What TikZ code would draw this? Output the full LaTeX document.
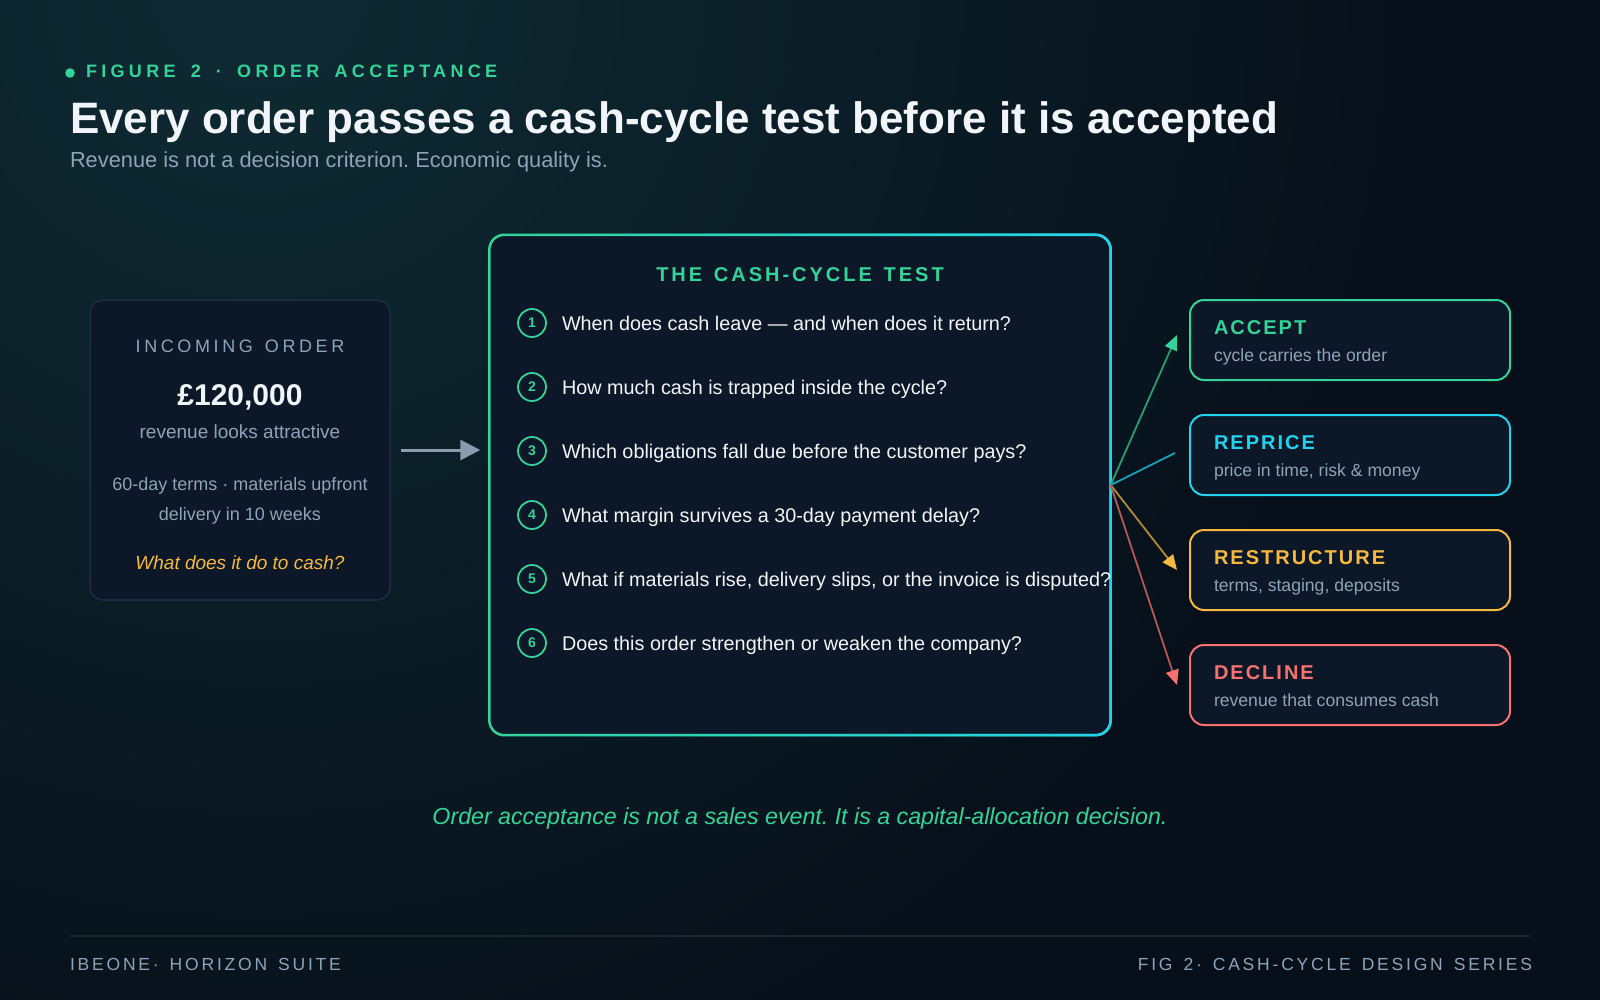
\documentclass[tikz,border=0pt]{standalone}
\usepackage{fontspec}
\setmainfont{Liberation Sans}
\newfontfamily\lsFig[LetterSpace=24, WordSpace=1.63]{Liberation Sans}
\newfontfamily\lsHead[LetterSpace=15, WordSpace=1.36]{Liberation Sans}
\newfontfamily\lsOrd[LetterSpace=20, WordSpace=1.4]{Liberation Sans}
\newfontfamily\lsDec[LetterSpace=10]{Liberation Sans}
\newfontfamily\lsFoot[LetterSpace=16, WordSpace=1.43]{Liberation Sans}
\usetikzlibrary{arrows.meta,fadings}
\definecolor{bg}{HTML}{07101A}
\definecolor{glow}{HTML}{0F2B33}
\definecolor{boxfill}{HTML}{0C1727}
\definecolor{boxline}{HTML}{1F2D40}
\definecolor{cgreen}{HTML}{34D399}
\definecolor{ccyan}{HTML}{22D3EE}
\definecolor{camber}{HTML}{F5B940}
\definecolor{cred}{HTML}{F87171}
\definecolor{ctext}{HTML}{F1F5F9}
\definecolor{cmuted}{HTML}{8FA3B8}
\definecolor{carrow}{HTML}{8A9BB0}
\definecolor{cfoot}{HTML}{1A2636}
\newcommand\fsz[1]{\fontsize{#1}{#1}\selectfont\frenchspacing}
\tikzfading[name=fadeleft, left color=transparent!100, right color=transparent!0]
\tikzset{
  txt/.style={inner sep=0pt, outer sep=0pt},
  orderbox/.style={draw=boxline, line width=1.5pt, fill=boxfill, rounded corners=13pt, inner sep=0pt},
  decbox/.style={draw=#1, line width=2pt, fill=boxfill, rounded corners=14pt, inner sep=0pt, minimum width=320pt, minimum height=80pt},
  numcirc/.style={circle, draw=cgreen, line width=1.8pt, fill=boxfill, minimum size=28pt, inner sep=0pt, text=cgreen, font=\fsz{14}\bfseries},
  question/.style={txt, anchor=base west, text=ctext, font=\fsz{19.8}},
  dectitle/.style={txt, anchor=base west, font=\fsz{20}\lsDec\bfseries},
  decsub/.style={txt, anchor=base west, text=cmuted, font=\fsz{17.6}},
  decarrow/.style={line width=1.8pt, draw=#1!72!bg, -{Triangle[length=15pt,width=13pt,color=#1]}},
}
\begin{document}
\begin{tikzpicture}[x=1pt,y=-1pt]
\useasboundingbox (0,0) rectangle (1600,1000);
% background
\fill[bg] (0,0) rectangle (1600,1000);
\begin{scope}
  \clip (0,0) rectangle (1600,1000);
  \shade[inner color=glow, outer color=bg] (260,-20) circle (1150);
\end{scope}

% header
\fill[cgreen] (70,73) circle (4.8);
\node[txt, anchor=base west, text=cgreen, font=\fsz{18}\lsFig\bfseries] (fig) at (86,78) {FIGURE 2 · ORDER ACCEPTANCE};
\node[txt, anchor=base west, text=ctext, font=\fsz{44}\bfseries] (title) at (70,134) {Every order passes a cash-cycle test before it is accepted};
\node[txt, anchor=base west, text=cmuted, font=\fsz{21.8}] (subtitle) at (70,168) {Revenue is not a decision criterion. Economic quality is.};

% incoming order
\node[orderbox, minimum width=300pt, minimum height=300pt] (order) at (240,450) {};
\node[txt, anchor=base, text=cmuted, font=\fsz{18}\lsOrd] (ordlbl) at (240,352) {INCOMING ORDER};
\node[txt, anchor=base, text=ctext, font=\fsz{30}\bfseries] (amount) at (240,405) {£120,000};
\node[txt, anchor=base, text=cmuted, font=\fsz{19}] (looks) at (240,438) {revenue looks attractive};
\node[txt, anchor=base, text=cmuted, font=\fsz{18}] (terms) at (240,490) {60-day terms · materials upfront};
\node[txt, anchor=base, text=cmuted, font=\fsz{18}] (deliv) at (240,520) {delivery in 10 weeks};
\node[txt, anchor=base, text=camber, font=\fsz{19}\itshape] (ask) at (240,569) {What does it do to cash?};

% main test box
\node[inner sep=0pt, minimum width=621pt, minimum height=500pt, fill=boxfill, rounded corners=15pt] (test) at (800,485) {};
\draw[cgreen, line width=2.5pt, rounded corners=15pt] (test.north west) rectangle (test.south east);
\draw[ccyan, line width=2.5pt, rounded corners=15pt, path fading=fadeleft] (test.north west) rectangle (test.south east);
\node[txt, anchor=base, text=cgreen, font=\fsz{20}\lsHead\bfseries] (testlbl) at (800,282) {THE CASH-CYCLE TEST};

\node[numcirc] (n1) at (532,323) {1};
\node[question] (q1) at (562,330) {When does cash leave — and when does it return?};
\node[numcirc] (n2) at (532,387) {2};
\node[question] (q2) at (562,394) {How much cash is trapped inside the cycle?};
\node[numcirc] (n3) at (532,451) {3};
\node[question] (q3) at (562,458) {Which obligations fall due before the customer pays?};
\node[numcirc] (n4) at (532,515) {4};
\node[question] (q4) at (562,522) {What margin survives a 30-day payment delay?};
\node[numcirc] (n5) at (532,579) {5};
\node[question] (q5) at (562,586) {What if materials rise, delivery slips, or the invoice is disputed?};
\node[numcirc] (n6) at (532,643) {6};
\node[question] (q6) at (562,650) {Does this order strengthen or weaken the company?};

% arrow order -> test
\draw[line width=3pt, carrow, -{Triangle[length=20pt,width=20pt]}] ([xshift=10pt]order.east) -- ([xshift=-9pt]test.west |- order.east);

% decision boxes
\node[decbox=cgreen] (accept) at (1350,340) {};
\node[dectitle, text=cgreen] (acceptT) at (1214,334) {ACCEPT};
\node[decsub] (acceptS) at (1214,361) {cycle carries the order};
\node[decbox=ccyan] (reprice) at (1350,455) {};
\node[dectitle, text=ccyan] (repriceT) at (1214,449) {REPRICE};
\node[decsub] (repriceS) at (1214,476) {price in time, risk \& money};
\node[decbox=camber] (restr) at (1350,570) {};
\node[dectitle, text=camber] (restrT) at (1214,564) {RESTRUCTURE};
\node[decsub] (restrS) at (1214,591) {terms, staging, deposits};
\node[decbox=cred] (decline) at (1350,685) {};
\node[dectitle, text=cred] (declineT) at (1214,679) {DECLINE};
\node[decsub] (declineS) at (1214,706) {revenue that consumes cash};

% connectors
\coordinate (src) at (test.east);
\draw[decarrow=cgreen] (src) -- ([xshift=-12pt,yshift=5pt]accept.west);
\draw[line width=1.8pt, draw=ccyan!75!bg] (src) -- ([xshift=-14pt,yshift=2pt]reprice.west);
\draw[decarrow=camber] (src) -- ([xshift=-12pt]restr.west);
\draw[decarrow=cred] (src) -- ([xshift=-12pt]decline.west);

% closing line
\node[txt, anchor=base, text=cgreen, font=\fsz{23.2}\itshape] (closing) at (800,824) {Order acceptance is not a sales event. It is a capital-allocation decision.};

% footer
\coordinate (fl) at (70,936);
\coordinate (fr) at (1530,936);
\draw[cfoot, line width=2pt] (fl) -- (fr);
\node[txt, anchor=base west, text=cmuted, font=\fsz{17.5}\lsFoot] (footL) at (70,970) {IBEONE· HORIZON SUITE};
\node[txt, anchor=base east, text=cmuted, font=\fsz{17.5}\lsFoot] (footR) at (1532,970) {FIG 2· CASH-CYCLE DESIGN SERIES};
\end{tikzpicture}
\end{document}
